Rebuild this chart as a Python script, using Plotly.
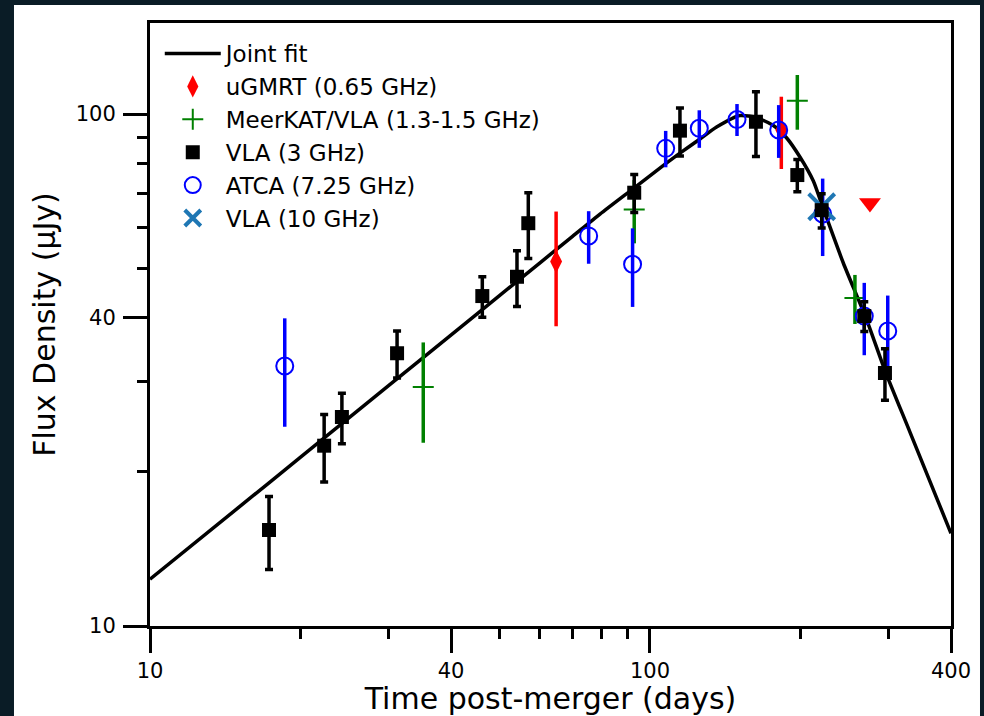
import numpy as np
import plotly.graph_objects as go

# Joint smoothly-broken power-law fit (sampled along the curve)
fit_t = [10, 15.0, 19.95, 30.0, 39.81, 50.0, 60.0, 70.0, 79.43, 92.6, 108.0,
         114.8, 125.9, 135.9, 151.4, 163.5, 176.5, 187.7, 199.5, 212.2,
         221.2, 243.6, 271.4, 295.1, 331.1, 400]
fit_f = [12.34, 17.01, 21.32, 29.47, 36.88, 44.19, 51.05, 57.68, 63.77, 71.53,
         80.25, 83.89, 89.39, 94.32, 99.33, 98.35, 94.96, 89.78, 82.41, 73.97,
         66.11, 51.17, 39.59, 31.55, 23.92, 15.17]

# uGMRT 0.65 GHz
gmrt_t = [64.9, 183.1]
gmrt_f = [51.5, 93.1]
gmrt_e = [13.0, 15.0]
# uGMRT upper limit
gmrt_ul_t = [275.4]
gmrt_ul_f = [67.0]

# MeerKAT / VLA 1.3-1.5 GHz
mkt_t = [35.2, 93.0, 197.1, 257.0]
mkt_f = [29.3, 65.1, 106.2, 43.7]
mkt_e = [6.5, 9.2, 13.0, 4.8]

# VLA 3 GHz
vla3_t = [17.3, 22.3, 24.2, 31.2, 46.2, 54.2, 57.1, 93.0, 114.8, 162.9,
          197.1, 220.5, 268.3, 295.1]
vla3_f = [15.4, 22.5, 25.6, 34.1, 44.1, 48.1, 61.2, 70.2, 92.8, 96.6,
          76.0, 64.9, 40.3, 31.2]
vla3_e = [2.5, 3.4, 2.9, 3.6, 4.0, 6.0, 9.0, 6.0, 10.0, 14.0,
          5.5, 5.0, 2.7, 3.6]

# ATCA 7.25 GHz
atca_t = [18.6, 75.4, 92.3, 107.5, 125.5, 149.3, 180.9, 221.5, 268.3, 298.9]
atca_f = [32.2, 57.8, 50.9, 85.7, 93.8, 97.6, 93.1, 63.8, 40.3, 37.7]
atca_e = [7.7, 6.8, 8.9, 7.0, 7.9, 7.0, 11.0, 11.0, 6.5, 6.5]

# VLA 10 GHz
vla10_t = [220.5]
vla10_f = [65.9]

x_ticks = [10, 40, 100, 400]
x_minor = [20, 30, 50, 60, 70, 80, 90, 200, 300]
y_ticks = [10, 40, 100]
y_minor = [20, 30, 50, 60, 70, 80, 90]

FONT = "DejaVu Sans"
RED, GREEN, BLUE, STEEL = "#ff0000", "#008000", "#0000ff", "#1f77b4"

fig = go.Figure()

fig.add_trace(go.Scatter(
    x=fit_t, y=fit_f, mode="lines", name="Joint fit",
    line=dict(color="black", width=3.5, shape="spline", smoothing=0.6),
    legendrank=1))

fig.add_trace(go.Scatter(
    x=gmrt_t, y=gmrt_f, mode="markers", name="uGMRT (0.65 GHz)",
    marker=dict(symbol="diamond-tall", size=17, color=RED),
    error_y=dict(type="data", array=gmrt_e, color=RED,
                 thickness=3.5, width=0),
    legendrank=2))

fig.add_trace(go.Scatter(
    x=gmrt_ul_t, y=gmrt_ul_f, mode="markers", showlegend=False,
    marker=dict(symbol="triangle-down", size=19, color=RED)))

fig.add_trace(go.Scatter(
    x=mkt_t, y=mkt_f, mode="markers", name="MeerKAT/VLA (1.3-1.5 GHz)",
    marker=dict(symbol="cross-thin-open", size=15, color=GREEN,
                line=dict(color=GREEN, width=2)),
    error_y=dict(type="data", array=mkt_e, color=GREEN,
                 thickness=3.5, width=0),
    legendrank=3))

fig.add_trace(go.Scatter(
    x=atca_t, y=atca_f, mode="markers", name="ATCA (7.25 GHz)",
    marker=dict(symbol="circle-open", size=17, color=BLUE,
                line=dict(color=BLUE, width=2)),
    error_y=dict(type="data", array=atca_e, color=BLUE,
                 thickness=3.5, width=0),
    legendrank=5))

fig.add_trace(go.Scatter(
    x=vla10_t, y=vla10_f, mode="markers", name="VLA (10 GHz)",
    marker=dict(symbol="x-thin-open", size=26, color=STEEL,
                line=dict(color=STEEL, width=4)),
    legendrank=6))

fig.add_trace(go.Scatter(
    x=vla3_t, y=vla3_f, mode="markers", name="VLA (3 GHz)",
    marker=dict(symbol="square", size=14, color="black"),
    error_y=dict(type="data", array=vla3_e, color="black",
                 thickness=3.5, width=4),
    legendrank=4))

axis_common = dict(
    type="log", showgrid=False, zeroline=False,
    showline=True, linecolor="black", linewidth=3, mirror=True,
    ticks="outside", ticklen=24, tickwidth=3, tickcolor="black",
    tickfont=dict(family=FONT, size=21, color="black"),
    title_font=dict(family=FONT, size=30, color="black"),
)

fig.update_xaxes(
    **axis_common,
    range=[np.log10(10), np.log10(400)],
    tickmode="array", tickvals=x_ticks, ticktext=[str(v) for v in x_ticks],
    minor=dict(tickmode="array", tickvals=x_minor, ticks="outside",
               ticklen=10, tickwidth=3, tickcolor="black", showgrid=False),
    title=dict(text="Time post-merger (days)", standoff=11),
    ticklabelstandoff=0,
)
fig.update_yaxes(
    **axis_common,
    range=[np.log10(10), np.log10(150.6)],
    tickmode="array", tickvals=y_ticks, ticktext=[str(v) for v in y_ticks],
    minor=dict(tickmode="array", tickvals=y_minor, ticks="outside",
               ticklen=10, tickwidth=3, tickcolor="black", showgrid=False),
    title=dict(text="Flux Density (μJy)", standoff=12),
    ticklabelstandoff=3,
)

# white figure panel on a dark surround
fig.add_shape(type="rect", xref="paper", yref="paper",
              x0=-0.1698, x1=1.0362, y0=-0.16, y1=1.0299,
              fillcolor="white", line=dict(width=0), layer="below")

fig.update_layout(
    width=984, height=716,
    margin=dict(l=150, r=33, t=23, b=90, autoexpand=False),
    paper_bgcolor="#0a1c26", plot_bgcolor="white",
    font=dict(family=FONT, color="black"),
    legend=dict(x=0.0122, y=0.985, xanchor="left", yanchor="top",
                bgcolor="rgba(0,0,0,0)", borderwidth=0,
                font=dict(family=FONT, size=23, color="black"),
                tracegroupgap=0, itemwidth=56),
)

fig.write_html("out.html")
